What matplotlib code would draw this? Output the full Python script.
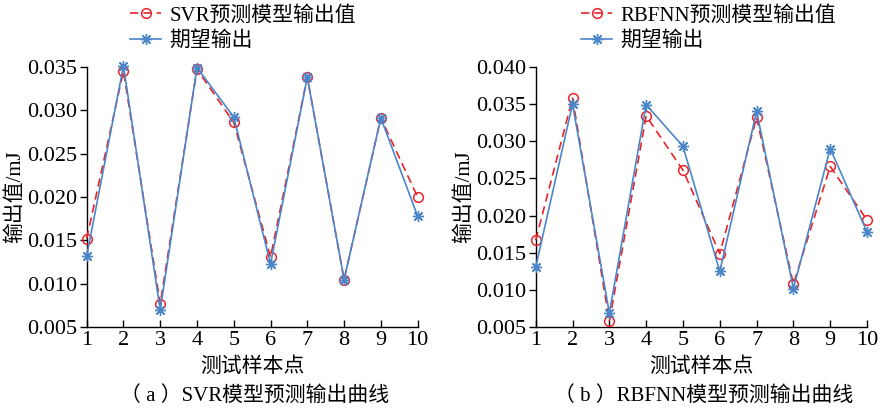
import matplotlib
matplotlib.use("Agg")
import matplotlib.pyplot as plt
from matplotlib.ticker import FormatStrFormatter

plt.rcParams["font.family"] = ["Liberation Serif", "Noto Sans CJK SC"]

samples = [1, 2, 3, 4, 5, 6, 7, 8, 9, 10]
svr_pred = [0.0152, 0.0345, 0.0077, 0.0347, 0.0286, 0.0131, 0.0338, 0.0105, 0.0291, 0.0200]
svr_expected = [0.0132, 0.0351, 0.0070, 0.0349, 0.0292, 0.0123, 0.0338, 0.0105, 0.0291, 0.0178]
rbf_pred = [0.0167, 0.0358, 0.0058, 0.0334, 0.0261, 0.0149, 0.0332, 0.0108, 0.0266, 0.0194]
rbf_expected = [0.0131, 0.0350, 0.0069, 0.0349, 0.0293, 0.0125, 0.0340, 0.0102, 0.0290, 0.0178]

red = "#e8232b"
blue = "#4a86c8"
fs = 16

fig = plt.figure(figsize=(8.88, 4.09), dpi=100)


def draw_panel(rect, pred, expected, pred_label, ylim, yticks, caption, legend_x, cap_x):
    ax = fig.add_axes(rect)
    ax.plot(samples, pred, "--o", color=red, lw=1.2, ms=7, mfc="none",
            mew=1.1, dashes=(5, 3), label=pred_label, clip_on=False, zorder=3)
    ax.plot(samples, expected, "-", color=blue, lw=1.2, marker=(8, 2, 0),
            ms=8, mew=1.0, label="期望输出", clip_on=False, zorder=4)
    ax.set_xlim(1, 10)
    ax.set_ylim(*ylim)
    ax.set_xticks(samples)
    ax.set_yticks(yticks)
    ax.yaxis.set_major_formatter(FormatStrFormatter("%.3f"))
    for s in ("top", "right"):
        ax.spines[s].set_visible(False)
    ax.spines["left"].set_linewidth(1.0)
    ax.spines["bottom"].set_linewidth(1.0)
    ax.tick_params(axis="y", direction="out", length=5, width=1.0, labelsize=fs, pad=2)
    ax.tick_params(axis="x", direction="in", length=5, width=1.0, labelsize=fs, pad=3)
    ax.set_xlabel("测试样本点", fontsize=15, labelpad=5)
    ax.set_ylabel("输出值/mJ", fontsize=15, labelpad=1)
    fig.text(cap_x, 0.032, caption, ha="center", va="center", fontsize=15)
    ax.legend(loc="upper left", bbox_to_anchor=(legend_x, 0.985),
              bbox_transform=fig.transFigure, frameon=False, fontsize=15,
              borderpad=0, borderaxespad=0, handlelength=1.5,
              handletextpad=0.4, labelspacing=0.25)
    return ax


draw_panel([0.0976, 0.1998, 0.3727, 0.637], svr_pred, svr_expected,
           "SVR预测模型输出值", (0.005, 0.035),
           [0.005, 0.010, 0.015, 0.020, 0.025, 0.030, 0.035],
           "（ a ）SVR模型预测输出曲线", 130 / 888, 255 / 888)
draw_panel([0.6033, 0.1998, 0.3731, 0.637], rbf_pred, rbf_expected,
           "RBFNN预测模型输出值", (0.005, 0.040),
           [0.005, 0.010, 0.015, 0.020, 0.025, 0.030, 0.035, 0.040],
           "（ b ）RBFNN模型预测输出曲线", 581 / 888, 704 / 888)

fig.savefig("out.png", dpi=100)
